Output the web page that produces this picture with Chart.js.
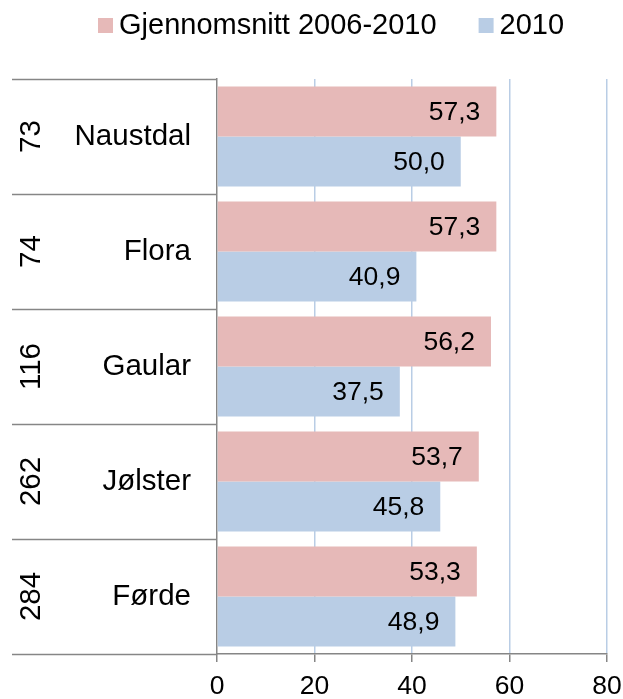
<!DOCTYPE html>
<html>
<head>
<meta charset="utf-8">
<script src="https://cdn.jsdelivr.net/npm/chart.js@4.4.1/dist/chart.umd.min.js"></script>
<style>
  html, body { margin: 0; padding: 0; background: #fff; }
  canvas { display: block; }
</style>
</head>
<body>
<canvas id="chart" width="623" height="699"></canvas>
<script>
// kommuner med rangering, snitt 2006-2010 og tal for 2010
const kommuner = ["Naustdal", "Flora", "Gaular", "Jølster", "Førde"];
const rangering = ["73", "74", "116", "262", "284"];
const snitt0610 = [57.3, 57.3, 56.2, 53.7, 53.3];
const aar2010 = [50.0, 40.9, 37.5, 45.8, 48.9];
const xTicks = [0, 20, 40, 60, 80];

const FONT = "'Liberation Sans', Arial, sans-serif";
const GRAA = "#868686";
const ROSA = "#E6B9B8";
const BLAA = "#B9CDE5";

function komma(v) {
  return v.toFixed(1).replace(".", ",");
}

// forklaring øvst
const forklaring = {
  id: "forklaring",
  afterDraw(chart) {
    const ctx = chart.ctx;
    ctx.save();
    ctx.font = "29px " + FONT;
    ctx.textBaseline = "middle";
    ctx.textAlign = "left";
    let x = 98;
    const y = 26;
    chart.data.datasets.forEach(ds => {
      ctx.fillStyle = ds.backgroundColor;
      ctx.fillRect(x, y - 8, 15, 15);
      ctx.fillStyle = "#000";
      ctx.fillText(ds.label, x + 21, y);
      x += 21 + ctx.measureText(ds.label).width + 42;
    });
    ctx.restore();
  }
};

// venstre akse: rangering (rotert) og namn, med skiljeliner
const kategoriAkse = {
  id: "kategoriAkse",
  afterDraw(chart) {
    const ctx = chart.ctx;
    const ys = chart.scales.y;
    const area = chart.chartArea;
    const halv = Math.abs(ys.getPixelForValue(1) - ys.getPixelForValue(0)) / 2;
    ctx.save();
    ctx.strokeStyle = GRAA;
    ctx.lineWidth = 1.5;
    for (let i = 0; i <= kommuner.length; i++) {
      const yy = i < kommuner.length ? ys.getPixelForValue(i) - halv : ys.getPixelForValue(i - 1) + halv;
      ctx.beginPath();
      ctx.moveTo(12, Math.round(yy) + 0.5);
      ctx.lineTo(area.left, Math.round(yy) + 0.5);
      ctx.stroke();
    }
    ctx.fillStyle = "#000";
    ctx.font = "29.5px " + FONT;
    ctx.textBaseline = "middle";
    kommuner.forEach((namn, i) => {
      const yc = ys.getPixelForValue(i);
      ctx.textAlign = "right";
      ctx.fillText(namn, 191, yc);
      ctx.save();
      ctx.translate(32, yc);
      ctx.rotate(-Math.PI / 2);
      ctx.textAlign = "center";
      ctx.fillText(rangering[i], 0, 0);
      ctx.restore();
    });
    ctx.restore();
  }
};

// verdiar inne i enden av kvar stolpe
const verdiar = {
  id: "verdiar",
  afterDatasetsDraw(chart) {
    const ctx = chart.ctx;
    ctx.save();
    ctx.font = "26.5px " + FONT;
    ctx.fillStyle = "#000";
    ctx.textAlign = "right";
    ctx.textBaseline = "middle";
    chart.data.datasets.forEach((ds, d) => {
      chart.getDatasetMeta(d).data.forEach((bar, i) => {
        ctx.fillText(komma(ds.data[i]), bar.x - 16, bar.y + 1);
      });
    });
    ctx.restore();
  }
};

new Chart(document.getElementById("chart"), {
  type: "bar",
  data: {
    labels: kommuner,
    datasets: [
      { label: "Gjennomsnitt 2006-2010", data: snitt0610, backgroundColor: ROSA },
      { label: "2010", data: aar2010, backgroundColor: BLAA }
    ]
  },
  options: {
    indexAxis: "y",
    responsive: false,
    animation: false,
    devicePixelRatio: 1,
    categoryPercentage: 100 / 115,
    barPercentage: 1,
    layout: { padding: { left: 217, right: 16, top: 79, bottom: 0 } },
    plugins: {
      legend: { display: false },
      tooltip: { enabled: false }
    },
    scales: {
      x: {
        min: 0,
        max: 80,
        afterBuildTicks: s => { s.ticks = xTicks.map(v => ({ value: v })); },
        afterFit: s => { s.height = 45; s.paddingLeft = 0; s.paddingRight = 0; },
        ticks: { color: "#000", font: { family: FONT, size: 26.5 }, padding: 9 },
        grid: {
          color: c => (c.tick && c.tick.value === 0 ? "rgba(0,0,0,0)" : BLAA),
          lineWidth: 1.5,
          tickColor: GRAA,
          tickLength: 8
        },
        border: { color: GRAA, width: 1.5 }
      },
      y: {
        ticks: { display: false },
        grid: { display: false },
        border: { color: GRAA, width: 1.5 },
        afterFit: s => { s.width = 0; }
      }
    }
  },
  plugins: [forklaring, kategoriAkse, verdiar]
});
</script>
</body>
</html>
